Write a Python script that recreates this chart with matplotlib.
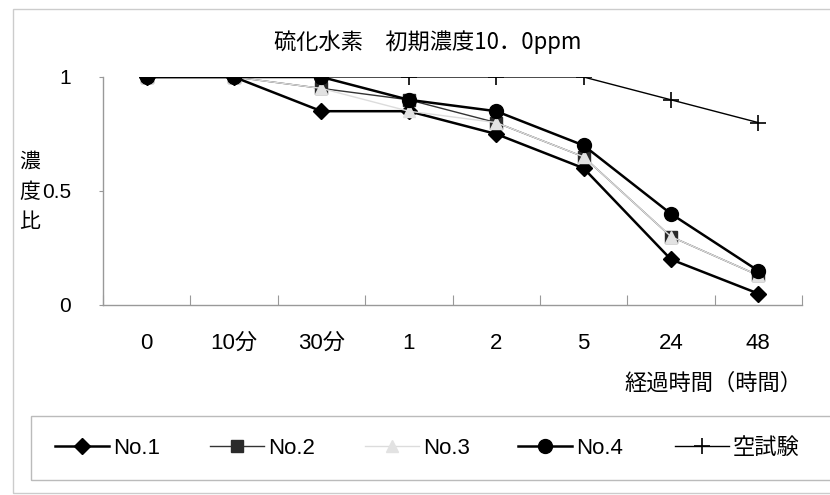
import numpy as np
import matplotlib
matplotlib.use('Agg')
import matplotlib.pyplot as plt
from matplotlib.patches import Rectangle

plt.rcParams['font.family'] = ['Liberation Sans', 'Noto Sans CJK JP', 'DejaVu Sans']

# data
times = ["0", "10分", "30分", "1", "2", "5", "24", "48"]
no1 = [1.0, 1.0, 0.85, 0.85, 0.75, 0.60, 0.20, 0.05]
no2 = [1.0, 1.0, 0.95, 0.90, 0.80, 0.65, 0.30, 0.13]
no3 = [1.0, 1.0, 0.95, 0.85, 0.80, 0.65, 0.30, 0.13]
no4 = [1.0, 1.0, 1.00, 0.90, 0.85, 0.70, 0.40, 0.15]
blank = [1.0, 1.0, 1.0, 1.0, 1.0, 1.0, 0.90, 0.80]

W, H = 830, 495
fig = plt.figure(figsize=(W / 100, H / 100), dpi=100)
ax = fig.add_axes([103 / W, 1 - 305 / H, 699 / W, 228 / H])

x = np.arange(len(times))
l1, = ax.plot(x, no1, color='black', lw=1.8, marker='D', ms=8, label='No.1', zorder=3)
l2, = ax.plot(x, no2, color='#333333', lw=1.0, marker='s', ms=9, mfc='#2a2a2a', mec='#2a2a2a', label='No.2', zorder=3)
l3, = ax.plot(x, no3, color='#dcdcdc', lw=1.0, marker='^', ms=9, mfc='#e2e2e2', mec='#e2e2e2', label='No.3', zorder=3)
l4, = ax.plot(x, no4, color='black', lw=1.8, marker='o', ms=10, label='No.4', zorder=3)
l5, = ax.plot(x, blank, color='black', lw=1.0, marker='+', ms=12, mew=1.2, label='空試験', zorder=3)

ax.set_xlim(-0.5, len(times) - 0.5)
ax.set_ylim(0, 1)
ax.set_yticks([0, 0.5, 1])
ax.set_yticklabels(['0', '0.5', '1'], fontsize=15)
ax.set_xticks(np.arange(-0.5, len(times)), minor=False)
ax.set_xticklabels([])
ax.set_xticks(x, minor=True)
ax.set_xticklabels(times, minor=True, fontsize=16)
ax.tick_params(axis='x', which='major', direction='in', length=7, color='#999999')
ax.tick_params(axis='x', which='minor', length=0, pad=20)
ax.tick_params(axis='y', direction='out', length=3, color='#999999', pad=20)
for s in ['top', 'right']:
    ax.spines[s].set_visible(False)
for s in ['left', 'bottom']:
    ax.spines[s].set_color('#999999')
    ax.spines[s].set_linewidth(1.0)

fig.text(428 / W, 1 - 42 / H, '硫化水素　初期濃度10．0ppm', ha='center', va='center',
         fontsize=16, family=['Noto Sans CJK JP'])
for i, ch in enumerate('濃度比'):
    fig.text(30 / W, 1 - (162 + 30 * i) / H, ch, ha='center', va='center',
             fontsize=15, family=['Noto Sans CJK JP'])
fig.text(802 / W, 1 - 383 / H, '経過時間（時間）', ha='right', va='center',
         fontsize=16, family=['Noto Sans CJK JP'])

# outer chart frame and legend frame
fig.patches.append(Rectangle((13 / W, 1 - 493 / H), 1, 484 / H, transform=fig.transFigure,
                             fill=False, ec='#cccccc', lw=1.0))
fig.patches.append(Rectangle((31 / W, 1 - 480 / H), 1, 64 / H, transform=fig.transFigure,
                             fill=False, ec='#bbbbbb', lw=1.0))

# one legend entry per series, placed like the original
for h, x0 in zip([l1, l2, l3, l4, l5], [55, 210, 365, 518, 675]):
    leg = fig.legend(handles=[h], loc='center left', bbox_to_anchor=(x0 / W, 1 - 448 / H),
                     frameon=False, fontsize=16, handlelength=2.45, handletextpad=0.15,
                     borderpad=0, borderaxespad=0)

fig.savefig('out.png', dpi=100)
